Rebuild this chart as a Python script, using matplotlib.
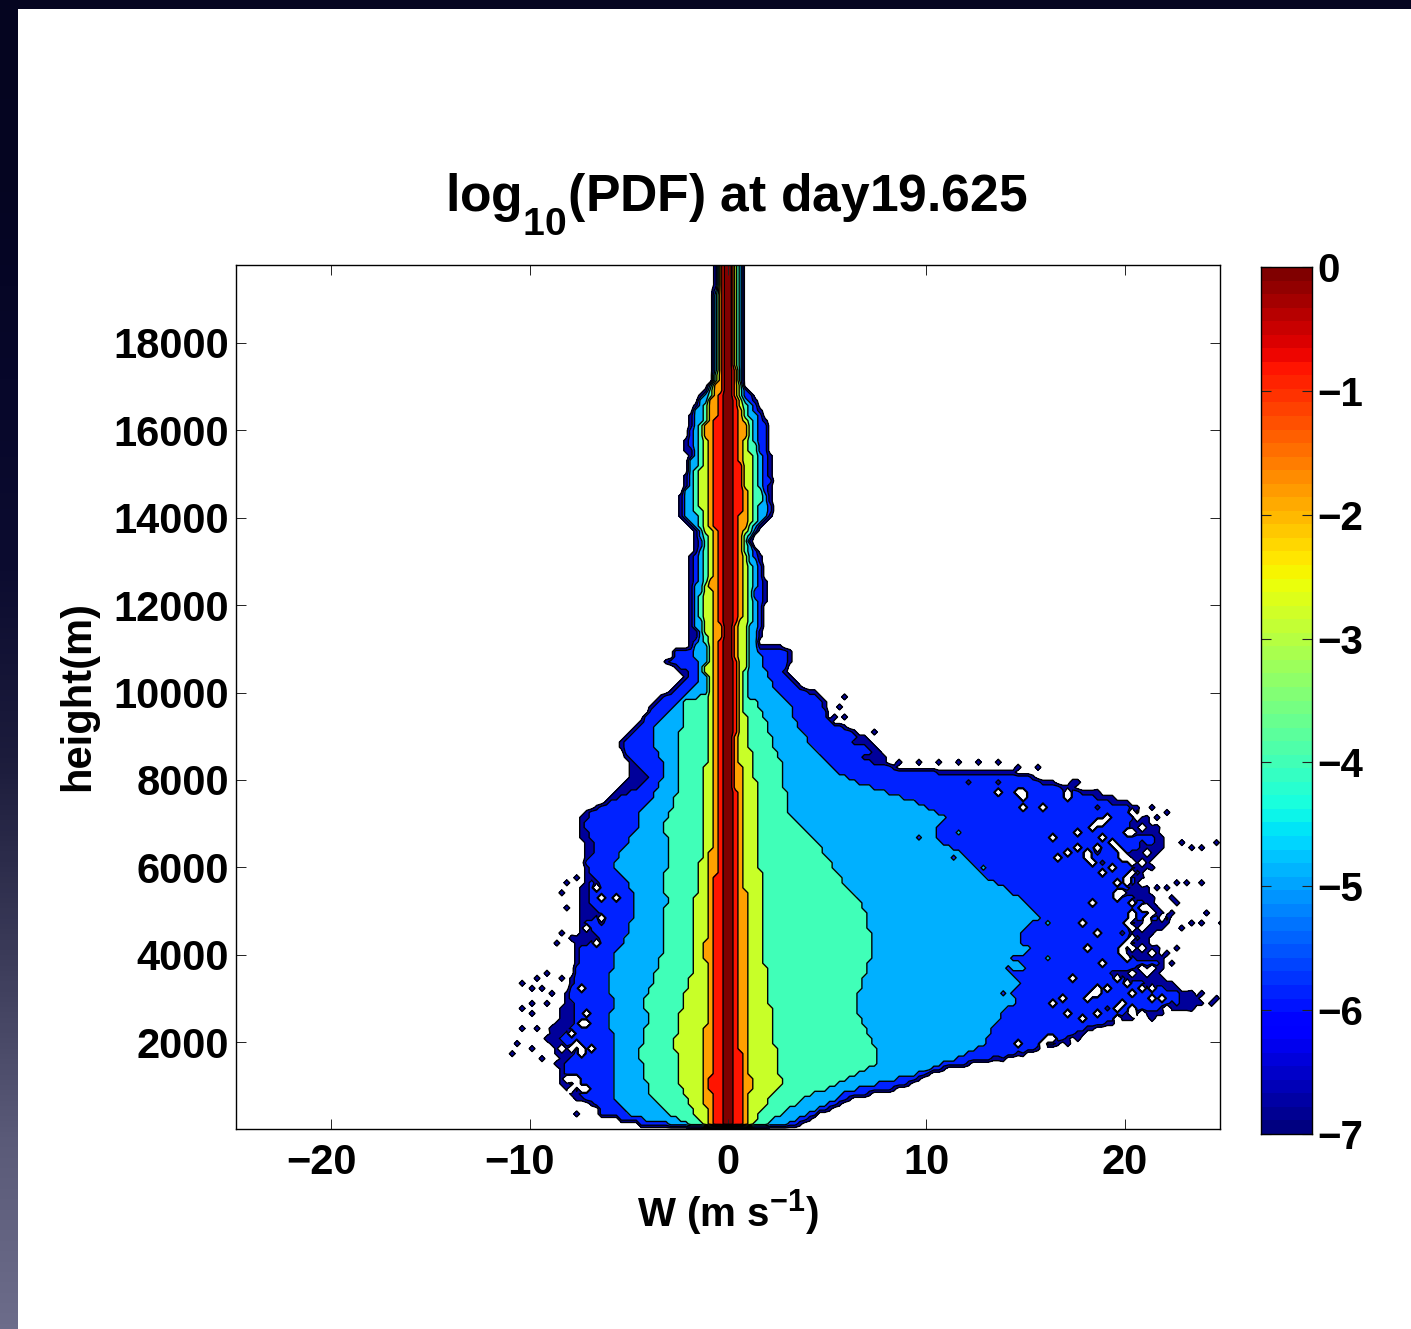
import numpy as np
import matplotlib
matplotlib.use("Agg")
import matplotlib.pyplot as plt
from matplotlib.colors import LinearSegmentedColormap
from matplotlib.transforms import ScaledTranslation
from matplotlib import _mathtext

plt.rcParams['font.family'] = ['Liberation Sans', 'DejaVu Sans']
plt.rcParams['font.weight'] = 'bold'
plt.rcParams['mathtext.fontset'] = 'custom'
plt.rcParams['mathtext.rm'] = 'Liberation Sans:bold'
plt.rcParams['mathtext.bf'] = 'Liberation Sans:bold'
plt.rcParams['mathtext.it'] = 'Liberation Sans:bold'
plt.rcParams['mathtext.default'] = 'rm'
_mathtext.FontConstantsBase.sub1 = 0.9
_mathtext.SHRINK_FACTOR = 0.76

# ---------- data: contour outlines of log10(PDF), W (m/s) against height (m) ----------
grid_h = [20,250,750,1000,1500,2000,2500,3000,3500,4000,4500,5000,5500,6000,6500,7000,7500,8000,8500,9000,
          9500,10000,10500,11000,11500,12000,12500,13000,13500,14000,14500,15000,15500,16000,16500,17000,17500,18000,19000,19900]

core_left = [-0.2]*40
core_right = [0.2]*40

red_left = [-.60,-.76,-.81,-.91,-.81,-.76,-.76,-.76,-.76,-.76,-.76,-.76,-.66,-.60,-.55,-.50,-.45,-.40,-.40,-.50,
            -.55,-.50,-.40,-.40,-.35,-.55,-.55,-.55,-.50,-.71,-.81,-.81,-.76,-.76,-.50,-.30,-.30,-.30,-.30,-.30]
red_right = [.66,.76,.76,.76,.66,.60,.60,.60,.60,.60,.60,.60,.55,.50,.45,.40,.40,.35,.35,.35,
             .50,.50,.40,.35,.35,.50,.50,.50,.40,.60,.71,.66,.60,.60,.45,.30,.30,.30,.30,.30]

orange_left = [-.81,-1.01,-1.26,-1.26,-1.26,-1.16,-1.11,-1.06,-1.01,-1.16,-1.11,-1.06,-1.01,-.91,-.86,-.76,-.76,-.71,-.66,-.71,
               -.71,-.76,-.81,-.81,-.66,-.81,-.91,-.76,-.66,-1.06,-1.06,-1.11,-1.06,-1.16,-1.06,-.71,-.40,-.40,-.40,-.40]
orange_right = [.86,1.01,1.11,1.16,1.06,1.06,1.01,1.01,1.01,1.01,1.01,.96,.86,.76,.71,.66,.71,.66,.60,.60,
                .60,.60,.60,.60,.45,.86,.76,.71,.71,1.01,.96,.76,.71,.96,.60,.45,.35,.35,.35,.35]

lime_left = [-1.16,-1.56,-2.07,-2.37,-2.57,-2.67,-2.52,-2.22,-1.86,-1.76,-1.71,-1.66,-1.61,-1.41,-1.26,-1.31,-1.31,-1.16,-1.11,-1.06,
             -1.06,-1.01,-1.16,-1.01,-1.21,-1.31,-1.11,-1.01,-1.01,-1.31,-1.51,-1.41,-1.26,-1.26,-.91,-.60,-.45,-.45,-.45,-.45]
lime_right = [1.11,1.46,2.12,2.72,2.52,2.32,2.22,2.07,1.97,1.76,1.76,1.76,1.71,1.61,1.51,1.46,1.51,1.36,1.21,1.01,
              .86,.86,.86,.96,1.01,1.01,1.01,.96,.71,1.36,1.26,1.21,1.11,1.01,.71,.50,.40,.40,.40,.40]

aqua_h = [20,100,250,500,750,1000,1250,1500,1750,2000,2250,2500,2750,3000,3250,3500,3750,4000,4500,5000,5250,5500,5750,6000,
          6500,7000,7250,7500,8000,8500,9000,9500,9800,9950,10500,11000,11500,12000,12500,13000,13500,14000,14500,15000,15500,16000,16500,17000,17500,19900]
aqua_left = [-1.41,-1.92,-2.67,-3.43,-3.83,-4.03,-4.18,-4.33,-4.44,-4.33,-4.18,-4.08,-4.13,-4.18,-3.93,-3.68,-3.53,-3.33,-3.23,-3.18,-3.07,-3.23,-3.18,-3.07,
             -3.07,-3.18,-2.92,-2.67,-2.52,-2.42,-2.42,-2.22,-2.12,-1.01,-1.11,-1.06,-1.31,-1.46,-1.31,-1.21,-1.16,-1.61,-1.76,-1.66,-1.56,-1.46,-1.26,-.81,-.55,-.50]
aqua_right = [1.36,1.86,2.37,3.12,4.03,5.29,6.40,7.41,7.56,7.26,6.96,6.70,6.55,6.40,6.65,6.80,7.06,7.31,7.16,6.85,6.70,6.15,5.64,5.29,
              4.64,3.48,3.12,3.02,2.77,2.62,2.12,1.76,1.46,.91,.96,1.01,1.11,1.21,1.26,1.11,1.01,1.51,1.66,1.51,1.41,1.31,.96,.66,.50,.45]

sky_left_h = [15,70,205,365,595,1050,1420,1810,2195,2560,2950,3340,3705,4095,4485,4850,5240,5630,5995,6155,6500,6910,7300,7690,8055,8445,8830,9200,9585,9975,
              10340,10730,11030,11190,11645,12265,13020,13475,13775,14000,14550,15650,16450,16680,16910,17140,17480,18050,19900]
sky_left = [-1.92,-2.42,-4.08,-5.04,-5.59,-5.80,-5.70,-5.80,-5.85,-5.95,-5.80,-6.05,-5.85,-5.59,-5.09,-4.79,-4.79,-4.94,-5.70,-5.70,-5.19,-4.59,-4.44,-3.68,-3.28,-3.33,-3.83,-3.78,-2.92,-2.02,
            -1.41,-1.56,-1.81,-1.56,-1.66,-1.66,-1.51,-1.31,-1.51,-2.27,-2.17,-1.76,-1.66,-1.41,-1.01,-.81,-.76,-.66,-.60]
sky_right_h = [15,45,205,480,890,1165,1420,1695,1970,2265,2560,2770,2950,3180,3340,3525,3705,3910,4095,4280,4485,4670,4850,5055,5240,5425,5630,5810,5995,6200,
               6385,6565,6770,6955,7140,7300,7530,7690,7870,8055,8215,8600,8900,9200,9815,10115,10435,10730,11120,11645,12265,13020,13475,13865,14095,14550,15535,16450,16795,17020,18050,19900]
sky_right = [1.11,2.47,3.38,4.49,6.15,8.67,10.33,11.94,13.05,13.20,13.71,13.96,14.72,14.21,14.87,13.96,15.07,14.21,15.37,14.72,14.72,15.22,15.72,15.22,15.07,14.21,13.56,12.95,12.55,11.94,
             11.54,10.68,10.33,10.68,11.04,10.33,9.42,8.16,6.90,6.15,5.29,4.64,4.03,3.63,2.97,2.27,1.97,1.76,1.46,1.46,1.36,1.46,1.01,1.61,2.12,1.86,1.61,1.36,.86,.66,.66,.66]

blue_left_h = [25,135,275,365,550,730,1050,1190,1510,1810,2035,2265,2560,3020,3340,3705,3935,4165,4395,4715,4940,5240,5535,5765,6085,6385,6610,6955,7300,7530,7690,7870,8055,8285,
               8600,8830,9200,9520,9815,10115,10435,10730,10960,11030,11350,11645,12265,12790,13180,13545,13775,14005,14390,14690,15080,15190,15375,15535,15695,16220,16380,16680,16910,17070,18280,19900]
blue_left = [-2.42,-4.79,-5.59,-6.60,-6.45,-7.46,-7.96,-8.32,-8.22,-7.71,-8.57,-8.06,-7.71,-7.96,-7.86,-7.71,-7.46,-7.56,-6.55,-7.21,-6.60,-6.96,-7.06,-6.70,-7.21,-6.75,-6.85,-7.21,-6.96,-5.85,-5.19,-4.44,-3.93,-4.44,
             -5.29,-5.19,-4.54,-4.03,-3.43,-2.57,-1.92,-3.03,-2.62,-1.81,-1.51,-1.71,-1.81,-1.71,-1.66,-1.41,-1.66,-2.22,-2.27,-1.92,-1.61,-1.86,-1.66,-1.86,-1.92,-1.86,-1.66,-1.36,-1.11,-.71,-.66,-.60]
blue_right_h = [25,45,365,730,960,1350,1650,1970,2335,2495,2655,2770,2885,3180,3295,3410,3590,3800,3980,4095,4395,4670,4850,5010,5170,5400,5630,5925,6155,6385,6610,6840,7000,7300,7530,7690,7825,7940,8055,8145,
                8215,8330,8490,8670,8900,9015,9360,9815,9975,10115,10435,10660,10960,11030,11190,11645,12265,12675,13180,13410,13865,14095,14550,14850,15305,15765,16220,16450,16840,17020,19900]
blue_right = [.86,3.12,4.49,6.15,8.67,10.33,13.71,16.58,18.09,19.75,20.11,21.77,22.63,22.63,21.27,20.41,19.25,21.77,20.01,20.11,20.76,20.01,22.28,20.76,21.12,20.01,20.41,20.76,20.01,20.26,21.92,20.26,20.11,20.92,18.90,17.99,16.88,15.72,15.37,12.05,
              8.67,7.91,6.65,7.41,6.15,6.75,4.99,4.79,4.28,3.48,2.72,3.12,3.02,1.61,1.51,1.76,1.81,1.76,1.51,1.01,1.61,2.27,1.97,2.17,1.92,1.97,1.86,1.51,1.21,.71,.71]

navy_left_h = [25,665,1120,1580,2035,2950,3865,4780,5700,6610,7185,7530,8215,8785,9815,10385,10730,11005,11645,12330,13135,13545,14005,14390,15080,15765,16335,16680,16910,17070,18280,19900]
navy_left = [-2.92,-7.56,-8.57,-8.57,-9.07,-8.22,-7.71,-7.56,-7.36,-7.36,-7.56,-6.05,-4.84,-5.54,-3.63,-2.12,-3.28,-2.02,-1.97,-2.07,-1.92,-1.61,-2.42,-2.52,-2.07,-2.17,-1.92,-1.61,-1.36,-.86,-.81,-.71]
navy_right_h = [25,45,365,730,960,1350,1650,1970,2265,2495,2725,2885,3180,3525,3865,4325,4780,5240,5925,6610,7070,7415,7640,7870,8030,8170,8215,8375,8670,9015,9360,9815,10045,10160,10500,10730,11005,11145,12330,13180,13410,13865,14095,14850,15765,16220,16840,17020,19900]
navy_right = [.86,3.38,4.64,6.40,8.92,10.68,13.96,16.73,18.24,20.01,22.78,24.04,23.03,21.77,22.02,21.02,22.53,21.27,21.02,22.18,21.27,20.76,19.25,17.24,15.72,15.22,8.92,8.16,7.66,6.90,5.14,4.89,4.38,3.63,2.87,3.23,3.12,1.61,1.97,1.66,1.11,1.76,2.37,2.27,2.07,1.97,1.31,.76,.76]

# empty cells (no samples) inside the noisy tail
hole_w = [13.54,14.80,15.81,14.97,16.48,17.66,17.54,16.65,17.02,18.25,18.75,19.00,19.59,19.93,19.42,19.00,20.09,19.59,20.43,20.26,21.02,18.50,17.99,18.75,18.25,19.84,19.00,20.26,19.56,18.67,18.25,17.49,16.78,16.31,17.02,17.83,20.35,20.77,19.67,16.15,14.55,18.58,18.92,20.26,
          -6.62,-6.45,-5.64,-6.28,-7.12,-6.62,-7.41,-7.16,-7.93,-7.66,-6.95,-7.46,-8.38,-7.88,-7.54,-7.88,
          19.42,19.67,19.93,20.09,18.25,18.25,18.33,19.59,19.84,19.59,20.09,20.26,20.09,20.26,21.02,20.85,21.27,19.76,20.01,18.33,18.58,19.09,20.09,20.77,21.44,18.75,18.33,19.09,20.26,20.51,20.77,17.07,17.24,14.72,14.97,15.89,16.40,19.76,20.26,20.77,
          -7.88,-7.46,-7.71,-7.46,-7.04,-8.05,-7.46,-7.04,
          20.43,20.09,20.93,21.02,20.77,20.26,20.43,21.61,21.10,20.77,21.19,20.77,21.44,21.77,20.43,20.93,21.27,20.43,20.09,21.44,21.10,20.43,21.94,21.27,20.77,20.26,19.59,22.11,18.75]
hole_h = [7756,7413,7413,7718,6627,6765,6444,6192,6330,6230,6421,6627,6459,6230,6001,5834,5696,5467,5238,4857,4781,5223,4727,4552,4094,4018,3751,3598,3407,3140,3026,3445,2965,2911,2682,2591,3064,3636,2797,2034,1920,6993,7032,7222,
          5529,5316,5316,4835,4644,4286,3195,2668,2149,2020,1905,1806,1806,1119,1043,890,
          6612,6459,6307,6192,6383,6230,6116,5620,5467,5353,5734,4933,4743,4628,4857,4667,4933,4094,3941,3064,3217,3255,3331,3216,3178,7032,6917,7108,7222,7146,7299,7756,7642,7756,7642,1996,2034,2873,2720,2644,
          1806,1768,1119,928,890,1195,2378,2378,
          6841,6803,6917,6383,6154,6078,5849,6154,5887,5696,5086,5086,5010,4857,4323,4170,4018,4170,4285,3712,3560,3560,3026,3026,2644,2644,2568,2720,2682]

# isolated low-probability cells beyond the outline
speck_w = [-7.63,-8.18,-8.42,-7.37,-8.00,-8.38,-7.83,-8.63,-9.22,-8.38,-10.28,-9.68,-9.81,-8.89,-9.81,-9.22,-10.35,-9.89,-10.40,-9.64,-8.97,-8.89,-9.22,-10.57,-9.47,-9.98,-10.82,-8.63,-7.63,-9.39,
           22.03,21.27,21.52,21.52,22.78,23.45,23.99,24.71,21.44,21.35,22.03,23.20,23.96,22.53,21.52,21.27,22.28,22.75,22.36,23.45,23.99,24.76,24.21,22.95,21.52,22.03,22.53,22.28,21.61,21.02,21.61,23.45,23.99,24.71,24.46,23.45,21.27,18.75,17.99,17.74,17.07,13.79,14.97,16.90,17.74,18.67,15.47,17.49,
           5.90,5.54,5.29,5.80,7.31,6.75,-3.93,-4.69,
           6.6,7.6,8.6,9.6,10.6,11.6,12.6,13.6,14.6,15.6]
speck_h = [5735,5636,5453,5316,5072,4454,4385,4248,3523,3500,3370,3431,3256,3141,2874,2912,2722,2645,2355,2340,2302,2188,2073,1974,1653,1821,1753,1463,356,3217,
           7283,7375,7184,6917,6597,6421,6497,6536,6230,5963,5544,5681,5620,5620,5521,5338,5338,5223,5010,4781,4704,4727,4933,4628,4094,3979,4170,3751,3522,3293,3255,3102,3079,3041,2911,2797,2568,2416,2225,2125,1919,1614,1690,2110,7909,7718,7985,7909,
           9907,9724,9427,9427,9106,8832,9701,8420,
           8490,8375,8375,8375,8375,8375,8375,8375,8260,8260]

# cells of the lowest band inside the blue band
navy_pocket_w = [12.11,18.58,18.75,18.92,20.43,19.76,20.60,20.77,22.45,22.11,19.25,21.77,14.55,13.71,-6.62,-7.12,-6.45,-7.88,-8.30,-8.47,-7.46]
navy_pocket_h = [7909,7375,6307,6078,4476,4476,4743,6612,2873,2797,2797,6536,7680,7909,5697,4667,4782,2874,1119,1768,5545]

# cells of the sky band inside the blue band, and the reverse
sky_pocket_w = [12.87,16.06,14.80,12.11,11.61,13.63,14.38,14.46,16.06]
sky_pocket_h = [6001,3941,5010,6116,6803,5391,3216,3445,4704]
blue_pocket_w = [14.05,9.68,11.36,14.46,13.80]
blue_pocket_h = [3712,6726,6230,2700,3130]

band_colors = ['#00009a', '#0022ff', '#00b0ff', '#40ffb8', '#c8ff28', '#ffa000', '#ff1400', '#800000']
band_levels = [0.6, 1.5, 2.5, 3.5, 4.5, 5.5, 6.5, 7.5, 8.5]
x_ticks = [-20, -10, 0, 10, 20]
y_ticks = [2000, 4000, 6000, 8000, 10000, 12000, 14000, 16000, 18000]
cbar_ticks = [0, -1, -2, -3, -4, -5, -6, -7]
frame_stops = ['#050520', '#050522', '#07072a', '#0c0c30', '#1c1c3c', '#3a3a58', '#5a5a78', '#6c6c8a']

# ---------- gridded field built from the outlines ----------
xs = -25 + 0.125 + 0.25 * np.arange(200)
ys = 10 + 115.0 * np.arange(174)
Z = np.zeros((ys.size, xs.size))
outlines = [
    (navy_left_h, navy_left, navy_right_h, navy_right),
    (blue_left_h, blue_left, blue_right_h, blue_right),
    (sky_left_h, sky_left, sky_right_h, sky_right),
    (aqua_h, aqua_left, aqua_h, aqua_right),
    (grid_h, lime_left, grid_h, lime_right),
    (grid_h, orange_left, grid_h, orange_right),
    (grid_h, red_left, grid_h, red_right),
    (grid_h, core_left, grid_h, core_right),
]
for n, (lh, lw_, rh, rw) in enumerate(outlines, start=1):
    for j, h in enumerate(ys):
        if h < lh[0]:
            continue
        Z[j, (xs >= np.interp(h, lh, lw_)) & (xs <= np.interp(h, rh, rw))] = n

def cell(w, h):
    return int(np.argmin(np.abs(ys - h))), int(np.argmin(np.abs(xs - w)))

for w, h in zip(speck_w, speck_h):
    j, i = cell(w, h)
    if Z[j, i] == 0:
        Z[j, i] = 1.45
for w, h in zip(navy_pocket_w, navy_pocket_h):
    Z[cell(w, h)] = 1
for w, h in zip(sky_pocket_w, sky_pocket_h):
    Z[cell(w, h)] = 3
for w, h in zip(blue_pocket_w, blue_pocket_h):
    Z[cell(w, h)] = 2
for w, h in zip(hole_w, hole_h):
    Z[cell(w, h)] = -3

# ---------- figure ----------
W_PX, H_PX = 1411, 1329
fig = plt.figure(figsize=(W_PX / 100, H_PX / 100), dpi=100, facecolor='white')

def box(l, t, r, b):
    return [l / W_PX, 1 - b / H_PX, (r - l) / W_PX, (b - t) / H_PX]

frame_cmap = LinearSegmentedColormap.from_list('frame', frame_stops)
a_frame = fig.add_axes(box(0, 0, 18, H_PX))
a_frame.imshow(np.linspace(0, 1, 256)[:, None], aspect='auto', cmap=frame_cmap)
a_frame.axis('off')
a_top = fig.add_axes(box(0, 0, W_PX, 9))
a_top.set_facecolor('#050520')
a_top.set_xticks([]); a_top.set_yticks([])
for s in a_top.spines.values():
    s.set_visible(False)

ax = fig.add_axes(box(236, 265, 1220, 1129))
ax.contourf(xs, ys, Z, levels=band_levels, colors=band_colors)
ax.contour(xs, ys, Z, levels=band_levels[:-1], colors='black', linewidths=1.0)

ax.set_xlim(-24.8, 24.8)
ax.set_ylim(10, 19785)
ax.set_xticks(x_ticks)
ax.set_yticks(y_ticks)
ax.set_xticklabels([str(v).replace('-', '\u2212') for v in x_ticks])
ax.tick_params(direction='in', length=7, width=0.7, top=True, right=True, labelsize=30, color='#222222')
ax.tick_params(axis='x', pad=10)
ax.tick_params(axis='y', pad=5)
for s in ax.spines.values():
    s.set_linewidth(1.0)
    s.set_zorder(5)
shift = ScaledTranslation(-10 / 100, 0, fig.dpi_scale_trans)
for v, lab in zip(x_ticks, ax.get_xticklabels()):
    if v < 0:
        lab.set_transform(lab.get_transform() + shift)

fig.text(736 / W_PX, 1 - 211 / H_PX, r'log$_{10}$(PDF) at day19.625', ha='center', va='baseline', fontsize=37.2)
fig.text(728 / W_PX, 1 - 1227 / H_PX, r'W (m s$^{-1}$)', ha='center', va='baseline', fontsize=29)
fig.text(78 / W_PX, 1 - 696 / H_PX, 'height(m)', rotation=90, ha='center', va='center', fontsize=30)

# colour bar
cax = fig.add_axes(box(1261, 267, 1312, 1134))
cbar_vals = np.linspace(-7, 0, 65)
cax.pcolormesh([0, 1], cbar_vals, ((cbar_vals[:-1] + cbar_vals[1:]) / 2)[:, None],
               cmap=plt.get_cmap('jet', 64), vmin=-7, vmax=0, shading='flat')
cax.set_xlim(0, 1)
cax.set_ylim(-7, 0)
cax.set_xticks([])
cax.yaxis.tick_right()
cax.set_yticks(cbar_ticks)
cax.set_yticklabels([str(v).replace('-', '\u2212') for v in cbar_ticks])
cax.tick_params(axis='y', direction='in', length=7, width=0.8, left=True, right=True, labelsize=29, pad=4, color='#222222')
for s in cax.spines.values():
    s.set_linewidth(1.0)

fig.savefig('out.png', dpi=100)
